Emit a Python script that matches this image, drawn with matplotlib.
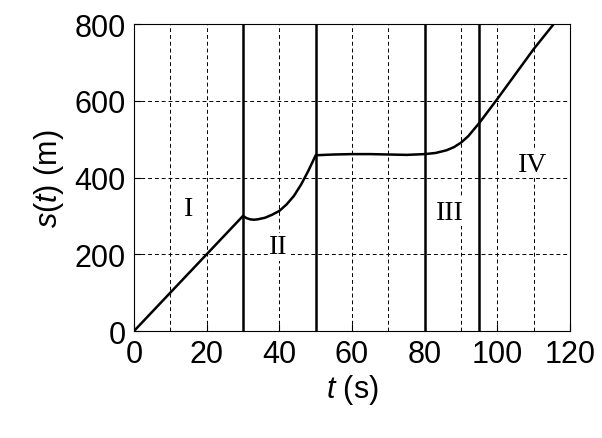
import matplotlib
matplotlib.use("Agg")
import matplotlib.pyplot as plt

t = [0, 30, 31, 32, 33, 34, 36, 38, 40, 42, 44, 46, 48, 50, 55, 60, 65, 70, 75, 80, 83, 86, 88, 90, 92, 95, 100, 105, 110, 115.5]
s = [0, 300, 294, 291, 290, 291, 295, 303, 313, 330, 352, 382, 418, 458, 460, 461, 461, 460, 459, 461, 464, 471, 479, 491, 508, 542, 605, 670, 735, 800]
boundaries = [30, 50, 80, 95]
region_labels = ["I", "II", "III", "IV"]
label_t = [15, 39.7, 86.8, 109.6]
label_s = [318, 219, 310, 435]

plt.rcParams['font.family'] = ['Liberation Sans', 'DejaVu Sans']
plt.rcParams['mathtext.fontset'] = 'custom'
plt.rcParams['mathtext.it'] = 'Liberation Sans:italic'
plt.rcParams['mathtext.rm'] = 'Liberation Sans'
fig = plt.figure(figsize=(6.02, 4.39), dpi=100)
ax = fig.add_axes([0.2226, 0.2437, 0.7244, 0.6993])
ax.set_xlim(0, 120)
ax.set_ylim(0, 800)
ax.set_xticks(range(0, 121, 20))
ax.set_yticks(range(0, 801, 200))
for x in range(10, 120, 10):
    ax.axvline(x, color='k', ls=(0, (4, 3)), lw=0.7)
for y in range(200, 800, 200):
    ax.axhline(y, color='k', ls=(0, (4, 3)), lw=0.7)
for b in boundaries:
    ax.axvline(b, color='k', lw=1.8)
ax.plot(t, s, color='k', lw=1.8)
for lab, x, y in zip(region_labels, label_t, label_s):
    ax.text(x, y, lab, fontsize=20, family='Liberation Serif', ha='center', va='center',
            bbox=dict(facecolor='white', edgecolor='none', pad=1))
ax.tick_params(labelsize=22, direction='in', length=5, pad=6)
ax.set_xlabel(r'$t$ (s)', fontsize=22, labelpad=2)
ax.set_ylabel(r'$s$($t$) (m)', fontsize=22, labelpad=6)
fig.savefig('out.png', dpi=100)
